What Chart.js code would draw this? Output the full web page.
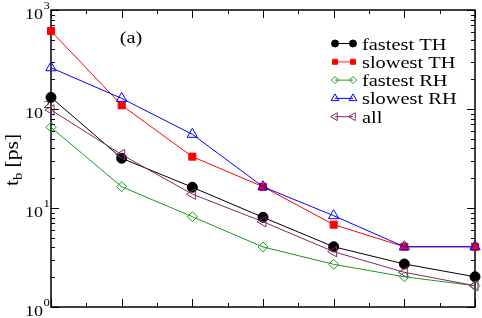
<!DOCTYPE html>
<html><head><meta charset="utf-8">
<script src="https://cdn.jsdelivr.net/npm/chart.js@4.4.0/dist/chart.umd.min.js"></script>
<style>html,body{margin:0;padding:0;background:#fff;}#wrap{width:482px;height:318px;position:relative;}</style>
</head><body><div id="wrap"><canvas id="c" width="482" height="318"></canvas></div>
<script>
const categories = ['1','2','3','4','5','6','7'];
const fastestTH = [131, 31.8, 16.2, 8.05, 4.06, 2.72, 2.02];
const slowestTH = [613, 109, 33.0, 16.4, 6.79, 4.06, 4.06];
const fastestRH = [65.3, 16.4, 8.17, 4.04, 2.70, 2.02, 1.64];
const slowestRH = [261, 128, 55.5, 16.4, 8.36, 4.06, 4.06];
const allData   = [97.7, 34.6, 13.8, 7.27, 3.62, 2.24, 1.64];
const yTickExponents = [0, 1, 2, 3];
const seriesNames = ['fastest TH', 'slowest TH', 'fastest RH', 'slowest RH', 'all'];
const panelLabel = '(a)';

const FONT = '"Liberation Serif", "Times New Roman", serif';
const SX = 1.2;
function sText(ctx, txt, x, y, size, align, base) {
  ctx.save();
  ctx.font = size + 'px ' + FONT;
  ctx.textBaseline = base || 'alphabetic';
  ctx.fillStyle = '#000';
  const w = ctx.measureText(txt).width * SX;
  let x0 = x;
  if (align === 'center') x0 = x - w / 2;
  else if (align === 'right') x0 = x - w;
  ctx.translate(x0, y);
  ctx.scale(SX, 1);
  ctx.textAlign = 'left';
  ctx.fillText(txt, 0, 0);
  ctx.restore();
  return w;
}

const styles = [
  {color:'#000000', fill:'#000000', pointStyle:'circle', r:5, rot:0},
  {color:'#ff0000', fill:'#ff0000', pointStyle:'rect', r:5, rot:0},
  {color:'#1a9a1a', fill:'rgba(0,0,0,0)', pointStyle:'rectRot', r:5, rot:0},
  {color:'#0000ff', fill:'rgba(0,0,0,0)', pointStyle:'triangle', r:6, rot:0},
  {color:'#7d2a6c', fill:'rgba(0,0,0,0)', pointStyle:'triangle', r:6, rot:-90}
];
const seriesData = [fastestTH, slowestTH, fastestRH, slowestRH, allData];

const datasets = seriesData.map((d, i) => ({
  label: seriesNames[i],
  data: d,
  borderColor: styles[i].color,
  backgroundColor: styles[i].fill,
  pointBorderColor: styles[i].color,
  pointBackgroundColor: styles[i].fill,
  pointStyle: styles[i].pointStyle,
  pointRadius: styles[i].r,
  pointRotation: styles[i].rot,
  pointBorderWidth: 1,
  borderWidth: 1,
  tension: 0,
  clip: false,
  order: 5 - i
}));

const decorPlugin = {
  id: 'decor',
  beforeDatasetsDraw(chart) {
    const ctx = chart.ctx, a = chart.chartArea;
    const xs = chart.scales.x, ys = chart.scales.y;
    ctx.save();
    ctx.strokeStyle = '#000';
    ctx.lineWidth = 1.5;
    ctx.strokeRect(a.left, a.top, a.right - a.left, a.bottom - a.top);
    ctx.lineWidth = 1;
    ctx.beginPath();
    for (let i = 0; i < categories.length; i++) {
      const px = Math.round(xs.getPixelForValue(i)) + 0.5;
      ctx.moveTo(px, a.bottom); ctx.lineTo(px, a.bottom - 8);
      ctx.moveTo(px, a.top); ctx.lineTo(px, a.top + 8);
      if (i < categories.length - 1) {
        const mx = Math.round((xs.getPixelForValue(i) + xs.getPixelForValue(i + 1)) / 2) + 0.5;
        ctx.moveTo(mx, a.bottom); ctx.lineTo(mx, a.bottom - 4);
        ctx.moveTo(mx, a.top); ctx.lineTo(mx, a.top + 4);
      }
    }
    yTickExponents.forEach((e) => {
      const v = Math.pow(10, e);
      const py = Math.round(ys.getPixelForValue(v)) + 0.5;
      ctx.moveTo(a.left, py); ctx.lineTo(a.left + 8, py);
      ctx.moveTo(a.right, py); ctx.lineTo(a.right - 8, py);
      if (e < yTickExponents[yTickExponents.length - 1]) {
        for (let k = 2; k <= 9; k++) {
          const my = Math.round(ys.getPixelForValue(k * v)) + 0.5;
          ctx.moveTo(a.left, my); ctx.lineTo(a.left + 4, my);
          ctx.moveTo(a.right, my); ctx.lineTo(a.right - 4, my);
        }
      }
    });
    ctx.stroke();
    ctx.restore();
  },
  afterDraw(chart) {
    const ctx = chart.ctx, a = chart.chartArea;
    const ys = chart.scales.y;
    yTickExponents.forEach((e) => {
      const py = ys.getPixelForValue(Math.pow(10, e));
      const supW = 5;
      const baseRight = a.left - 3 - supW;
      sText(ctx, '10', baseRight, py + 8.5, 15, 'right');
      sText(ctx, String(e), baseRight + 0.5, py - 1.5, 10.5, 'left');
    });
    ctx.save();
    ctx.translate(18, 160);
    ctx.rotate(-Math.PI / 2);
    ctx.font = '18px ' + FONT;
    const w1 = ctx.measureText('t').width;
    ctx.font = '12px ' + FONT;
    const w2 = ctx.measureText('b').width;
    ctx.font = '18px ' + FONT;
    const w3 = ctx.measureText(' [ps]').width;
    const tot = (w1 + w2 + w3) * SX;
    ctx.fillStyle = '#000';
    ctx.textBaseline = 'alphabetic';
    ctx.textAlign = 'left';
    ctx.translate(-tot / 2, 0);
    ctx.scale(SX, 1);
    ctx.font = '18px ' + FONT; ctx.fillText('t', 0, 0);
    ctx.font = '12px ' + FONT; ctx.fillText('b', w1, 4);
    ctx.font = '18px ' + FONT; ctx.fillText(' [ps]', w1 + w2, 0);
    ctx.restore();
    sText(ctx, panelLabel, 131, 42.5, 17, 'center');
    const lx0 = 335, lx1 = 353, ty0 = 43.5, dy = 18.3;
    seriesNames.forEach((name, i) => {
      const y = ty0 + i * dy;
      const s = styles[i];
      ctx.save();
      ctx.strokeStyle = i === 1 ? '#ff8080' : s.color;
      ctx.lineWidth = i === 1 ? 2 : 1;
      ctx.beginPath(); ctx.moveTo(lx0, y); ctx.lineTo(lx1, y); ctx.stroke();
      ctx.restore();
      [lx0, lx1].forEach((px) => {
        ctx.save();
        ctx.strokeStyle = s.color; ctx.fillStyle = s.fill; ctx.lineWidth = 1;
        Chart.helpers.drawPoint(ctx, {pointStyle: s.pointStyle, radius: s.r - 1.5, rotation: s.rot, borderWidth: 1}, px, y);
        ctx.restore();
      });
      sText(ctx, name, 362, y + 6, 17, 'left');
    });
  }
};

new Chart(document.getElementById('c'), {
  type: 'line',
  data: { labels: categories, datasets },
  options: {
    responsive: false,
    animation: false,
    devicePixelRatio: 1,
    layout: { padding: { left: 51, right: 6, top: 10, bottom: 11 } },
    plugins: { legend: { display: false }, tooltip: { enabled: false }, title: { display: false } },
    scales: {
      x: { type: 'category', offset: false, display: false },
      y: { type: 'logarithmic', min: 1, max: 1000, display: false }
    }
  },
  plugins: [decorPlugin]
});
</script></body></html>
